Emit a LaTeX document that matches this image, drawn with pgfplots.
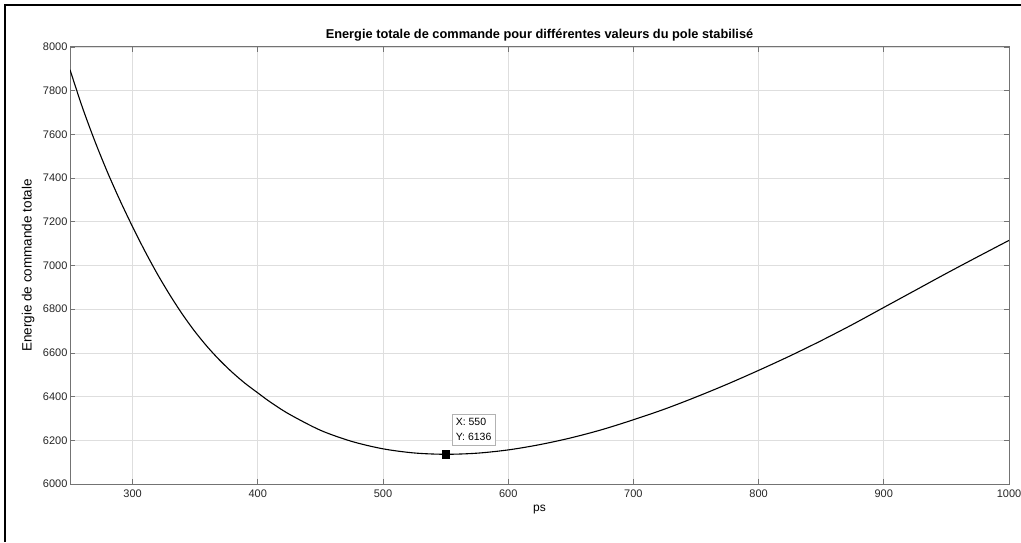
\documentclass[border=0pt]{standalone}
\usepackage{pgfplots}
\pgfplotsset{compat=1.18}
\usepackage{fontspec}
\setmainfont{Liberation Sans}
\begin{document}
\begin{tikzpicture}[x=1pt,y=1pt]
\useasboundingbox (0,0) rectangle (1021,542);
\fill[white] (0,0) rectangle (1021,542);
\draw[line width=2pt] (5,0) -- (5,537) -- (1021,537);
\begin{axis}[
  at={(70pt,58pt)}, anchor=south west,
  width=939pt, height=437pt, scale only axis,
  xmin=250, xmax=1000, ymin=6000, ymax=8000,
  xtick={300,400,...,1000}, ytick={6000,6200,...,8000},
  tick align=inside, tick pos=both, major tick length=5pt,
  grid=major,
  major grid style={black!13, line width=0.7pt},
  axis line style={black!55, line width=1pt},
  every tick/.style={black!55, line width=0.7pt},
  /pgf/number format/1000 sep={},
  /pgf/number format/assume math mode=true,
  tick label style={font=\fontsize{11}{13}\selectfont, text=black!85},
  yticklabel style={xshift=1pt},
  xticklabel style={yshift=-2pt},
  title={Energie totale de commande pour différentes valeurs du pole stabilisé},
  title style={font=\bfseries\fontsize{12.8}{14}\selectfont, yshift=-4pt},
  xlabel={ps},
  xlabel style={at={(axis description cs:0.5,0)}, anchor=center, yshift=-26pt, font=\fontsize{12}{14}\selectfont},
  ylabel={Energie de commande totale},
  ylabel style={at={(axis description cs:-0.0447,0.5)}, anchor=center, font=\fontsize{13.5}{15}\selectfont},
]
\addplot[black, line width=1.1pt, smooth] coordinates {
(250,7896) (260,7722) (270,7567) (280,7426) (290,7297) (300,7177)
(310,7064) (320,6959) (330,6863) (340,6775) (350,6696) (360,6626)
(370,6564) (380,6509) (390,6460) (400,6417) (410,6375) (425,6320)
(450,6246) (475,6195) (500,6161) (525,6142) (550,6136) (575,6141)
(600,6156) (625,6180) (650,6211) (675,6249) (700,6294) (725,6343)
(750,6398) (775,6457) (800,6520) (825,6586) (850,6656) (875,6730)
(900,6808) (925,6886) (950,6964) (975,7040) (1000,7115)
};
\addplot[only marks, mark=square*, mark size=3.8pt, black] coordinates {(550,6136)};
\node[anchor=south west, draw=black!30, fill=white, align=left, inner xsep=4pt, inner ysep=4pt,
  font=\fontsize{10.5}{15}\selectfont, xshift=6pt, yshift=9pt]
  at (axis cs:550,6136) {X: 550\\Y: 6136};
\end{axis}
\end{tikzpicture}
\end{document}
